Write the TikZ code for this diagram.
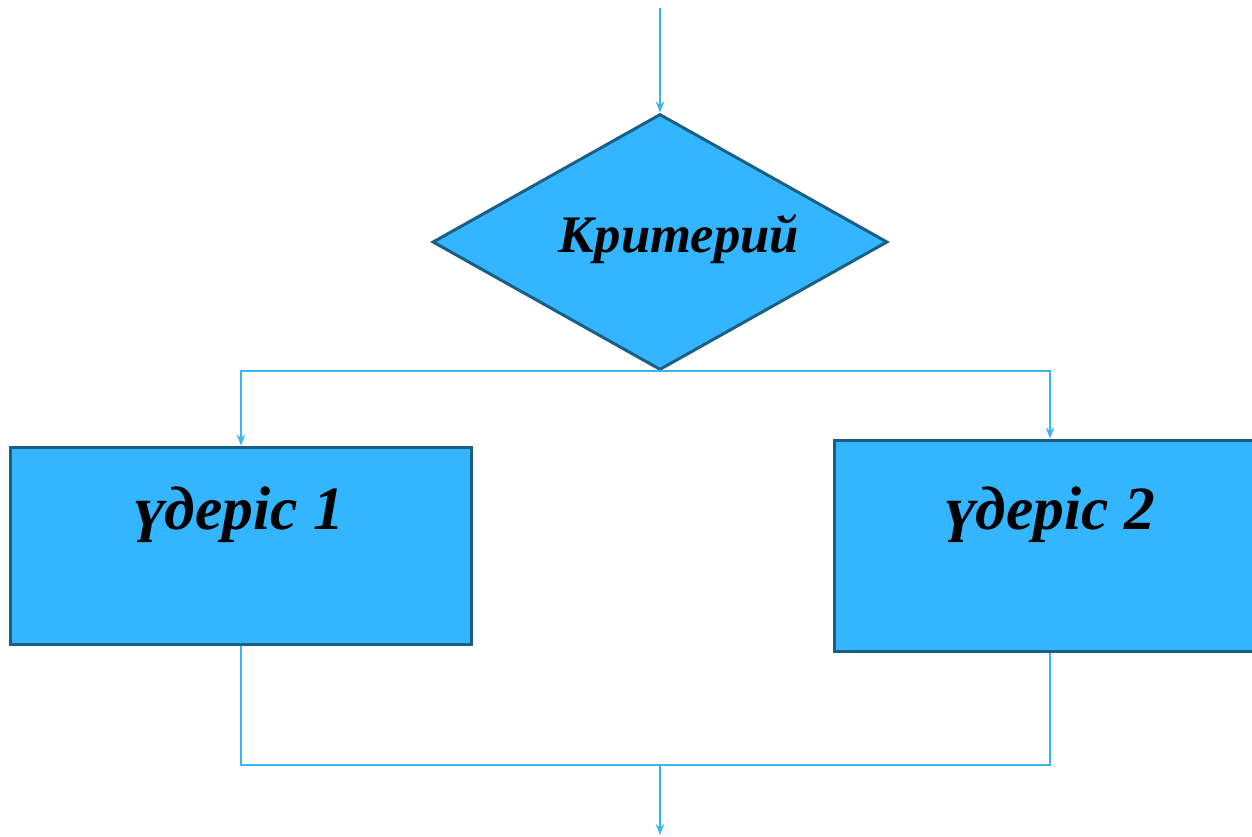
\documentclass[tikz,border=0pt]{standalone}
\usepackage{fontspec}
\setmainfont{Liberation Serif}
\usetikzlibrary{shapes.geometric,arrows.meta}
\definecolor{boxfill}{HTML}{33B6FF}
\definecolor{boxedge}{HTML}{1B5E84}
\definecolor{wire}{HTML}{3AB4F2}
\tikzset{
  blk/.style={draw=boxedge, fill=boxfill, line width=1.7pt, rectangle, inner sep=0pt},
  dec/.style={draw=boxedge, fill=boxfill, line width=1.7pt, diamond, inner sep=0pt, minimum width=9.1cm, minimum height=5.12cm},
  wirestyle/.style={draw=wire, line width=1.1pt},
  arr/.style={wirestyle, -{Stealth[length=0.22cm, width=0.17cm, inset=0.07cm]}},
  lbl/.style={font=\bfseries\itshape, anchor=base, inner sep=0pt}
}
\begin{document}
\begin{tikzpicture}[x=0.02cm, y=-0.02cm]
\useasboundingbox (0,0) rectangle (1252,837);
\clip (0,0) rectangle (1252,837);
\node[dec] (dia) at (660,242) {};
\node[lbl, font=\fontsize{30}{30}\selectfont\bfseries\itshape] (crit) at (679,253) {Критерий};
\node[blk, minimum width=9.24cm, minimum height=3.96cm] (b1) at (241,546) {};
\node[blk, minimum width=8.64cm, minimum height=4.24cm] (b2) at (1050,546) {};
\node[lbl, font=\fontsize{35}{35}\selectfont\bfseries\itshape] (t1) at (239,530) {үдеріс 1};
\node[lbl, font=\fontsize{35}{35}\selectfont\bfseries\itshape] (t2) at (1050,530) {үдеріс 2};
\coordinate (start) at (660,8);
\coordinate (join) at (660,765);
\coordinate (finish) at (660,835);
\draw[arr] (start) -- (dia.north);
\draw[arr] (dia.south) -| (b1.north);
\draw[arr] (dia.south) -| (b2.north);
\draw[wirestyle] (b1.south) |- (join);
\draw[wirestyle] (b2.south) |- (join);
\draw[arr] (join) -- (finish);
\end{tikzpicture}
\end{document}
